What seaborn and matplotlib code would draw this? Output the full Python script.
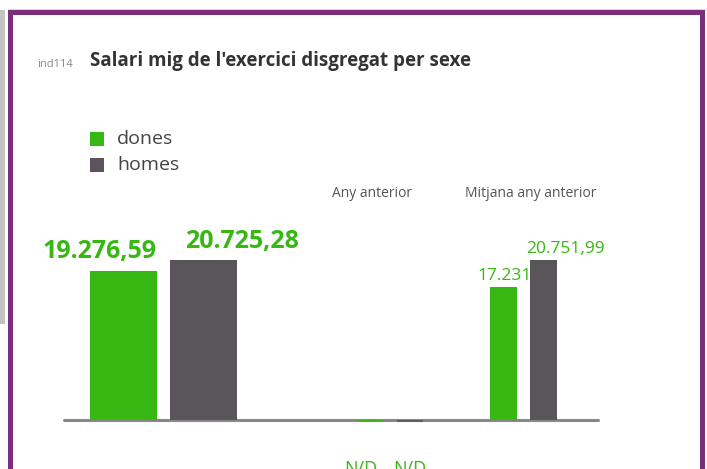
import numpy as np
import pandas as pd
import matplotlib
matplotlib.use("Agg")
import matplotlib.pyplot as plt
import seaborn as sns
from matplotlib.patches import Rectangle

# --- data ---
sexes = ["dones", "homes"]
colors = ["#36b712", "#5a555b"]
salari_exercici = [19276.59, 20725.28]
any_anterior = [0.0, 0.0]          # N/D
mitjana_any_anterior = [17231.0, 20751.99]
label_exercici = ["19.276,59", "20.725,28"]
label_anterior = ["N/D", "N/D"]
label_mitjana = ["17.231", "20.751,99"]
group_titles = ["Any anterior", "Mitjana any anterior"]
code = "ind114"
title = "Salari mig de l'exercici disgregat per sexe"

sns.set_style("white")
plt.rcParams['font.family'] = ['Open Sans', 'DejaVu Sans']

W, H = 707, 469
fig = plt.figure(figsize=(W / 100, H / 100), dpi=100)
fig.patch.set_facecolor("white")

BASE_Y = 420
TOP_Y = 220
YMAX = (BASE_Y - TOP_Y) * 20725.28 / 160.0


def px_rect(x0, y0, x1, y1):
    # pixel box, origin top-left -> figure fraction
    return [x0 / W, 1 - y1 / H, (x1 - x0) / W, (y1 - y0) / H]


def fx(x):
    return x / W


def fy(y):
    return 1 - y / H


def add_box(x0, y0, x1, y1, color):
    fig.patches.append(Rectangle((fx(x0), fy(y1)), (x1 - x0) / W, (y1 - y0) / H,
                                 transform=fig.transFigure, color=color,
                                 lw=0, zorder=0))


# frame decorations
add_box(0, 10, 5, 324, "#c3c3c3")
add_box(8, 9, 707, 10, "#ddd6dd")
add_box(8, 10, 705, 15, "#7a2e7b")
add_box(8, 10, 13, 469, "#7a2e7b")
add_box(700, 10, 705, 469, "#7a2e7b")

# baseline
base = fig.add_axes(px_rect(64, TOP_Y, 598, BASE_Y))
base.set_ylim(0, YMAX)
base.axhline(0, color="#888888", lw=2.2, clip_on=False)
base.axis("off")


def draw_group(x0, x1, values, width):
    ax = fig.add_axes(px_rect(x0, TOP_Y, x1, BASE_Y))
    df = pd.DataFrame({"sexe": sexes, "valor": values})
    sns.barplot(data=df, x="sexe", y="valor", hue="sexe", palette=colors,
                width=width, saturation=1, legend=False, ax=ax, errorbar=None,
                linewidth=0)
    for p, c in zip(ax.patches, colors):
        p.set_linewidth(0)
        if p.get_height() == 0:
            # N/D: draw a thin line just under the baseline
            p.set_edgecolor(c)
            p.set_linewidth(1.2)
            p.set_y(-YMAX * 0.004)
    ax.set_xlim(-0.5, 1.5)
    ax.set_ylim(0, YMAX)
    ax.axis("off")
    ax.patch.set_alpha(0)
    for p in ax.patches:
        p.set_clip_on(False)
    return ax


draw_group(83.5, 243.5, salari_exercici, 0.8375)
draw_group(350, 430, any_anterior, 0.66)
draw_group(483.5, 563.5, mitjana_any_anterior, 0.675)

green = colors[0]
# value labels
fig.text(fx(157), fy(258), label_exercici[0], ha="right", va="baseline",
         fontsize=18, fontweight="bold", color=green)
fig.text(fx(185), fy(248), label_exercici[1], ha="left", va="baseline",
         fontsize=18, fontweight="bold", color=green)
fig.text(fx(477), fy(280), label_mitjana[0], ha="left", va="baseline",
         fontsize=12.5, color=green)
fig.text(fx(526), fy(253), label_mitjana[1], ha="left", va="baseline",
         fontsize=12.5, color=green)
fig.text(fx(344), fy(460), label_anterior[0], ha="left", va="top",
         fontsize=13, color=green)
fig.text(fx(393), fy(460), label_anterior[1], ha="left", va="top",
         fontsize=13, color=green)

# group headers
fig.text(fx(372), fy(197), group_titles[0], ha="center", va="baseline",
         fontsize=10, color="#555555")
fig.text(fx(531), fy(197), group_titles[1], ha="center", va="baseline",
         fontsize=10, color="#555555")

# legend
for i, (s, c) in enumerate(zip(sexes, colors)):
    y0 = 132 + i * 26
    add_box(90, y0, 104, y0 + 14, c)
    fig.text(fx(117), fy(y0 + 7), s, ha="left", va="center",
             fontsize=14, color="#444444")

# title
fig.text(fx(37), fy(67), code, ha="left", va="baseline", fontsize=8, color="#888888")
fig.text(fx(90), fy(66), title, ha="left", va="baseline", fontsize=13.5,
         fontweight="bold", color="#333333")

fig.savefig("out.png", dpi=100)
